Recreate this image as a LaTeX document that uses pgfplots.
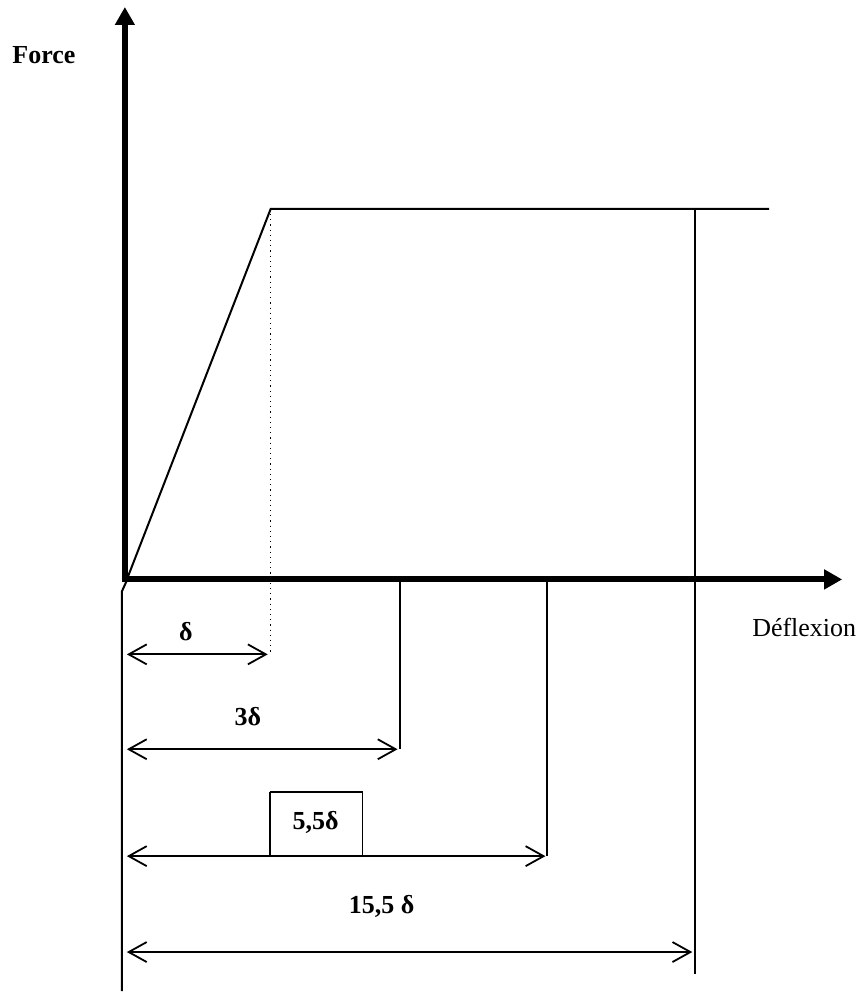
\documentclass[border=0pt]{standalone}
\usepackage{fontspec}
\setmainfont{Liberation Serif}
\usepackage{pgfplots}
\pgfplotsset{compat=1.18}
\usetikzlibrary{arrows.meta}
\tikzset{lbl/.style={font=\fontsize{13}{15}\selectfont, inner sep=0pt}}
\begin{document}
\begin{tikzpicture}
\begin{axis}[
  x=0.5pt, y=0.5pt, y dir=reverse,
  xmin=0, xmax=863, ymin=0, ymax=992,
  hide axis, clip=false,
]
% bounding box
\path (axis cs:0,0) (axis cs:863,992);
% axes
\addplot[black, line width=3pt, -{Triangle[length=9pt,width=9.5pt]}] coordinates {(125,583) (125,7)};
\addplot[black, line width=3pt, -{Triangle[length=9pt,width=9.5pt]}] coordinates {(122,580) (843,580)};
% force-deflection curve
\addplot[black, line width=1pt] coordinates {(127,580) (271,209) (770,209)};
% dotted guide
\addplot[black, line width=0.6pt, dotted] coordinates {(271,209) (271,653)};
% left reference line with kink
\addplot[black, line width=1pt] coordinates {(127,581) (122,592) (122,992)};
% verticals
\addplot[black, line width=1pt] coordinates {(400,580) (400,750)};
\addplot[black, line width=1pt] coordinates {(548,580) (548,857)};
\addplot[black, line width=1pt] coordinates {(696,209) (696,975)};
% dimension arrows
\addplot[black, line width=0.9pt, {Straight Barb[length=9pt,width=10pt]}-{Straight Barb[length=9pt,width=10pt]}] coordinates {(127,655) (268,655)};
\addplot[black, line width=0.9pt, {Straight Barb[length=9pt,width=10pt]}-{Straight Barb[length=9pt,width=10pt]}] coordinates {(127,750) (398,750)};
\addplot[black, line width=0.9pt, {Straight Barb[length=9pt,width=10pt]}-{Straight Barb[length=9pt,width=10pt]}] coordinates {(127,857) (546,857)};
\addplot[black, line width=0.9pt, {Straight Barb[length=9pt,width=10pt]}-{Straight Barb[length=9pt,width=10pt]}] coordinates {(127,953) (693,953)};
% box around 5,5 delta
\addplot[black, line width=0.8pt, fill=white] coordinates {(270,793) (363,793) (363,857) (270,857) (270,793)};
% labels
\node[lbl] at (axis cs:186,632) {\textbf{δ}};
\node[lbl] at (axis cs:248,717) {\textbf{3δ}};
\node[lbl] at (axis cs:316,823) {\textbf{5,5δ}};
\node[lbl] at (axis cs:382,907) {\textbf{15,5 δ}};
\node[lbl] at (axis cs:805,628) {Déflexion};
\node[lbl] at (axis cs:44,55) {\textbf{Force}};
\end{axis}
\end{tikzpicture}
\end{document}
